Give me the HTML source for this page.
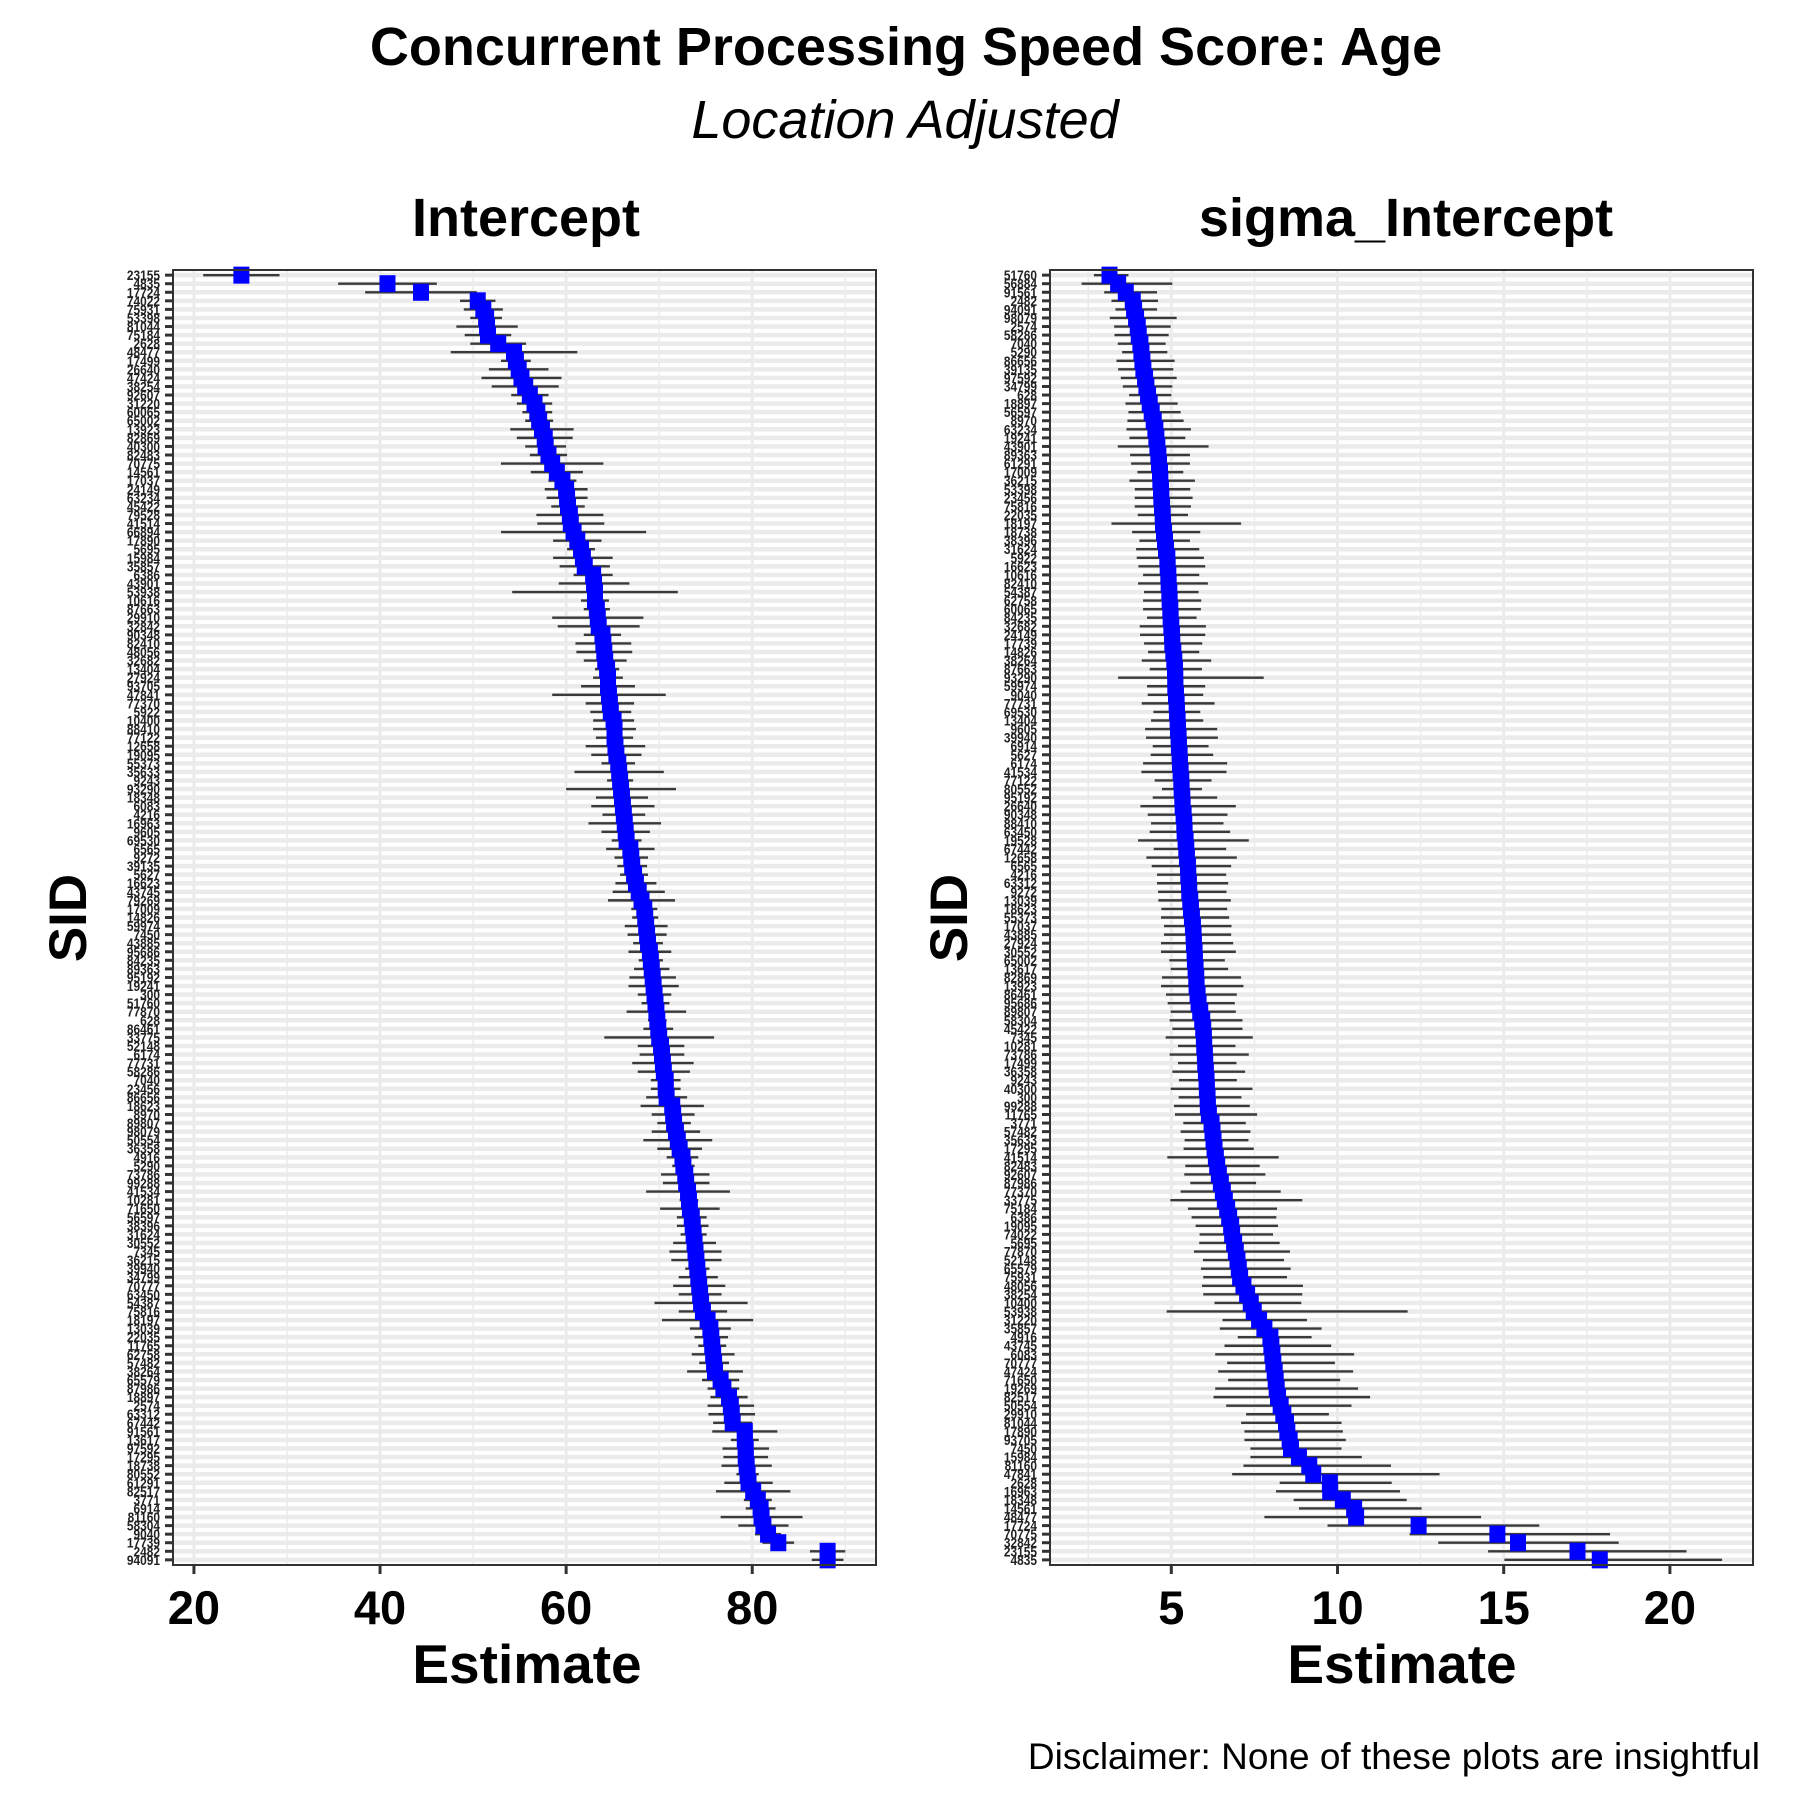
<!DOCTYPE html>
<html><head><meta charset="utf-8"><style>
html,body{margin:0;padding:0;background:#fff;}
svg{display:block;font-family:"Liberation Sans",Arial,sans-serif;}
</style></head><body>
<svg id="chart" width="1800" height="1800" viewBox="0 0 1800 1800" xmlns="http://www.w3.org/2000/svg">
<text x="906" y="65" text-anchor="middle" font-size="54" font-weight="bold">Concurrent Processing Speed Score: Age</text>
<text x="905" y="138" text-anchor="middle" font-size="54" font-style="italic">Location Adjusted</text>
<text x="526" y="236" text-anchor="middle" font-size="54" font-weight="bold">Intercept</text>
<text x="1406" y="236" text-anchor="middle" font-size="54" font-weight="bold">sigma_Intercept</text>
<text transform="translate(86,918) rotate(-90)" text-anchor="middle" font-size="53" font-weight="bold">SID</text>
<text transform="translate(967,918) rotate(-90)" text-anchor="middle" font-size="53" font-weight="bold">SID</text>
<text x="527" y="1683" text-anchor="middle" font-size="55" font-weight="bold">Estimate</text>
<text x="1402" y="1683" text-anchor="middle" font-size="55" font-weight="bold">Estimate</text>
<text x="1760" y="1769" text-anchor="end" font-size="37">Disclaimer: None of these plots are insightful</text>
<g id="left"></g>
<g id="right"></g>
</svg>
<script>
const leftLabels = ["23155","4835","17724","74022","75931","53398","81044","75184","2628","48477","17499","26640","47424","38254","92607","31220","60065","65002","13923","82869","40300","82483","70775","14561","17037","24149","63234","45422","79528","41514","66894","17890","5695","15984","35857","6386","43901","53938","10616","87663","29910","32842","90348","82410","48056","32682","13404","27924","93705","47841","77370","5922","10400","88410","77122","12658","19095","55373","35633","9243","93290","18348","6083","4216","16963","9605","69530","6565","9272","39135","5627","16623","43745","79269","17009","14826","59974","7450","43885","95686","84235","89363","95192","19241","300","51760","77870","628","86461","33775","52148","6174","77731","58286","7040","23456","86656","18623","8970","89807","98079","50554","36358","4916","5290","73786","99288","41534","10281","71650","56597","38396","31624","30552","7345","36215","39940","34799","70777","63450","54387","75816","18197","13039","22035","11765","62758","57482","38264","65579","87986","18897","2574","63312","67442","91561","13617","97592","17295","18738","80552","61291","82517","3771","6914","81160","58304","9040","17739","2482","94091"];
const leftEst = [25.1,40.8,44.4,50.5,51.1,51.4,51.5,51.6,52.7,54.4,54.6,54.9,55.2,55.6,56.1,56.6,56.9,57.1,57.4,57.7,57.8,58.1,58.5,59,59.6,60,60.1,60.2,60.4,60.5,60.8,61.2,61.6,61.8,62,62.9,63,63.1,63.1,63.3,63.4,63.5,63.9,64,64.1,64.2,64.4,64.5,64.5,64.6,64.7,64.8,65.1,65.2,65.2,65.3,65.4,65.6,65.7,65.8,65.9,66,66.1,66.2,66.3,66.4,66.5,66.9,67,67.1,67.3,67.5,67.8,68.1,68.4,68.5,68.6,68.7,68.8,69,69.1,69.2,69.3,69.4,69.5,69.6,69.7,69.8,69.9,70,70.2,70.3,70.4,70.5,70.7,70.7,70.8,71.4,71.5,71.6,71.8,72,72.2,72.5,72.6,72.8,72.9,73.1,73.2,73.3,73.5,73.6,73.7,73.8,73.9,74,74.1,74.2,74.3,74.4,74.5,74.7,75.2,75.5,75.6,75.7,75.8,75.9,76,76.6,76.9,77.5,77.7,77.8,77.9,79.2,79.2,79.3,79.3,79.4,79.5,79.6,80.1,80.6,80.9,81,81.2,81.7,82.8,88.1,88.1];
const leftErr = [4.1,5.3,6,1.9,2.1,1.7,3.3,2.5,3,6.8,1.6,3.2,4.3,3.6,2,1.9,1.6,1.5,3.4,3,2.2,2,5.5,2.8,1.5,2.3,2.2,1.8,3.6,3.6,7.8,2.6,1.5,3.2,2.7,2.1,3.8,8.9,1.5,1.4,4.9,4.4,2,3,3,2.3,1.3,1.6,2.9,6.1,2.6,2.2,2.2,2.3,2,3.2,2.7,1.8,4.8,1.4,5.9,2.8,3.4,2.3,3.9,2.6,1.6,2.6,1.8,1.6,1.5,2.2,2.8,3.6,1.4,1.4,2.3,2.1,1.6,2.3,1.3,1.9,2.5,2.7,1.8,1.5,3.2,1,1.6,5.9,2.5,2.4,3.3,2.8,1.6,1.6,2.2,3.4,2.3,1.8,2.6,3.7,2.4,1.7,1.2,2.6,2.5,4.5,1,3.2,1.6,1.7,1.4,2.3,2.8,2.7,1.3,2.1,2.8,2.3,5,2.6,4.9,2.2,1.8,1.5,2.3,1.6,3,2,1.7,2,2.5,2.5,2.1,3.5,1.5,2.5,2.4,2.7,1.2,2.6,4,1.5,1.6,4.4,2.7,1.4,1.7,1.9,1.7];
const leftTicks = [20,40,60,80];
const leftMinor = [30,50,70,90];

const rightLabels = ["51760","56884","91561","2482","94091","98079","2574","58286","7040","5290","86656","39135","97592","34799","628","18897","56597","8970","63234","19241","43901","89363","61291","17009","36215","53398","23456","75816","22035","18197","18738","38396","31624","5922","16623","10616","82410","54387","62758","60065","84235","32682","24149","17739","14826","38264","87663","93290","59974","9040","77731","69530","13404","9605","39940","6914","5627","6174","41534","77122","80552","95192","26640","90348","88410","63450","19528","67442","12658","6565","4216","63312","9272","13039","18623","55373","17037","43885","27924","30552","65002","13617","82869","13923","86461","95686","89807","58304","45422","7345","10281","73786","17499","36358","9243","40300","300","99288","11765","3771","57482","35633","17295","41514","82483","92607","87986","77370","33775","75184","6386","19095","74022","5695","77870","52148","65579","75931","48056","38254","10400","53938","31220","35857","4916","43745","6083","70777","47424","71650","19269","82517","50554","29910","81044","17890","93705","7450","15984","81160","47841","2628","16963","18348","14561","48477","17724","70775","32842","23155","4835"];
const rightEst = [3.14,3.4,3.63,3.84,3.88,3.94,3.99,4.02,4.07,4.1,4.13,4.16,4.21,4.25,4.3,4.35,4.41,4.47,4.52,4.55,4.58,4.61,4.63,4.66,4.67,4.69,4.7,4.72,4.74,4.75,4.78,4.81,4.84,4.88,4.89,4.91,4.92,4.94,4.95,4.97,4.98,5.0,5.02,5.03,5.06,5.09,5.11,5.12,5.12,5.14,5.16,5.17,5.19,5.2,5.22,5.23,5.25,5.26,5.28,5.3,5.31,5.33,5.34,5.37,5.39,5.4,5.43,5.45,5.47,5.5,5.51,5.53,5.54,5.57,5.59,5.62,5.65,5.67,5.68,5.7,5.71,5.73,5.75,5.76,5.79,5.82,5.87,5.93,5.96,5.98,5.99,6.01,6.02,6.04,6.06,6.07,6.09,6.1,6.13,6.21,6.24,6.27,6.3,6.34,6.38,6.43,6.49,6.55,6.61,6.68,6.74,6.8,6.83,6.89,6.94,6.99,7.03,7.07,7.17,7.28,7.39,7.48,7.64,7.8,7.98,8.01,8.04,8.07,8.11,8.14,8.17,8.21,8.29,8.37,8.45,8.49,8.56,8.6,8.84,9.15,9.27,9.77,9.78,10.16,10.5,10.56,12.44,14.81,15.43,17.22,17.89];
const rightLo = [2.67,2.3,2.98,3.2,3.32,3.15,3.28,3.29,3.39,3.52,3.35,3.4,3.48,3.54,3.73,3.62,3.71,3.68,3.65,3.74,3.39,3.76,3.79,3.98,3.74,3.9,3.9,3.9,3.99,3.2,3.82,4.04,3.94,3.96,4.01,4.15,4.0,4.18,4.15,4.15,4.27,4.05,4.06,4.18,4.3,4.11,4.35,3.4,4.27,4.29,4.11,4.46,4.39,4.21,4.24,4.44,4.38,4.15,4.1,4.5,4.72,4.44,4.07,4.29,4.39,4.35,4.0,4.47,4.25,4.41,4.57,4.57,4.6,4.61,4.7,4.69,4.78,4.78,4.69,4.69,4.94,4.98,4.72,4.69,4.84,4.89,4.98,4.95,5.03,4.83,5.2,4.95,5.2,5.03,5.23,4.98,5.22,5.08,5.11,5.36,5.28,5.4,5.37,4.88,5.42,5.39,5.57,5.28,4.97,5.5,5.61,5.73,5.85,5.84,5.68,5.95,5.89,5.96,5.92,5.96,6.3,4.86,6.54,6.46,7.0,6.6,6.32,6.68,6.41,6.71,6.32,6.27,6.65,7.25,7.1,7.2,7.2,7.38,7.38,7.17,6.83,8.26,8.15,8.68,8.84,7.8,9.7,12.17,13.03,14.53,15.02];
const rightHi = [3.71,5.03,4.57,4.6,4.57,5.16,4.98,4.92,4.83,4.88,5.1,5.06,5.16,5.03,5.0,5.19,5.28,5.37,5.59,5.42,6.12,5.56,5.56,5.36,5.71,5.57,5.64,5.59,5.5,7.1,5.87,5.56,5.84,5.98,6.02,5.84,6.1,5.82,5.9,5.89,5.76,6.04,6.02,5.93,5.84,6.2,5.92,7.78,6.02,5.96,6.3,5.87,5.96,6.38,6.4,6.12,6.26,6.68,6.66,6.21,5.92,6.38,6.94,6.69,6.57,6.77,7.33,6.65,6.97,6.8,6.65,6.71,6.66,6.79,6.68,6.74,6.81,6.8,6.86,6.94,6.61,6.71,7.1,7.17,6.97,6.91,6.94,7.14,7.14,7.45,6.93,7.33,6.96,7.22,6.97,7.44,7.11,7.36,7.58,7.24,7.38,7.32,7.48,8.23,7.66,7.83,7.55,8.29,8.94,8.18,8.16,8.21,8.06,8.26,8.57,8.39,8.59,8.48,8.96,8.94,8.91,12.11,9.08,9.52,9.22,9.81,10.5,9.92,10.47,10.08,10.62,10.98,10.42,9.74,10.12,10.16,10.25,10.12,10.73,11.61,13.07,11.63,11.88,12.08,12.53,14.32,16.07,18.2,18.46,20.5,21.57];
const rightTicks = [5,10,15,20];
const rightMinor = [2.5,7.5,12.5,17.5,22.5];

const NS = "http://www.w3.org/2000/svg";
function mk(tag, attrs, parent){
  const e = document.createElementNS(NS, tag);
  for (const k in attrs) e.setAttribute(k, attrs[k]);
  parent.appendChild(e);
  return e;
}

function drawPanel(g, cfg){
  const {x0,x1,y0,y1,dmin,dmax,labels,est,lo,hi,ticks,minor,labelX} = cfg;
  const n = labels.length;
  const sx = v => x0 + (v - dmin) / (dmax - dmin) * (x1 - x0);
  const step = (y1 - y0) / (n + 0.2);
  const sy = i => y0 + step * (i + 0.6);

  const bg = mk('rect', {x:x0, y:y0, width:x1-x0, height:y1-y0, fill:'#ffffff'}, g);
  
  

  for (let i = 0; i < n; i++){
    const hl = mk('line', {x1:x0, x2:x1, y1:sy(i), y2:sy(i), stroke:'#ebebeb', 'stroke-width':4.5}, g);
    
    
  }
  minor.forEach(v => {
    if (v <= dmin || v >= dmax) return;
    const ml = mk('line', {x1:sx(v), x2:sx(v), y1:y0, y2:y1, stroke:'#ebebeb', 'stroke-width':1.5}, g);
    
    
  });
  ticks.forEach(v => {
    const gl = mk('line', {x1:sx(v), x2:sx(v), y1:y0, y2:y1, stroke:'#ebebeb', 'stroke-width':3}, g);
    
    
  });

  for (let i = 0; i < n; i++){
    const eb = mk('line', {x1:sx(lo[i]), x2:sx(hi[i]), y1:sy(i), y2:sy(i), stroke:'#3a3a3a', 'stroke-width':2.4}, g);
    
    
  }
  for (let i = 0; i < n; i++){
    const pt = mk('rect', {x:sx(est[i])-8, y:sy(i)-8.5, width:16, height:17, fill:'#0000ff'}, g);
    
    
  }

  const border = mk('rect', {x:x0, y:y0, width:x1-x0, height:y1-y0, fill:'none', stroke:'#333333', 'stroke-width':2}, g);
  
  

  for (let i = 0; i < n; i++){
    const tk = mk('line', {x1:x0-8, x2:x0, y1:sy(i), y2:sy(i), stroke:'#333333', 'stroke-width':3}, g);
    
    
    const tl = mk('text', {x:labelX, y:sy(i)+5, 'text-anchor':'end', 'font-size':14, 'font-weight':'bold', fill:'#222', transform:'translate('+labelX+',0) scale(0.85,1) translate('+(-labelX)+',0)'}, g);
    
    
    tl.textContent = labels[i];
  }
  ticks.forEach(v => {
    const xt = mk('line', {x1:sx(v), x2:sx(v), y1:y1, y2:y1+9, stroke:'#333333', 'stroke-width':3}, g);
    
    
    const xl = mk('text', {x:sx(v), y:1624, 'text-anchor':'middle', 'font-size':47, 'font-weight':'bold'}, g);
    
    
    xl.textContent = v;
  });
}

const leftLo = leftEst.map((v,i) => v - leftErr[i]);
const leftHi = leftEst.map((v,i) => v + leftErr[i]);

drawPanel(document.getElementById('left'), {x0:173, x1:876, y0:270, y1:1565, dmin:17.75, dmax:93.3,
  labels:leftLabels, est:leftEst, lo:leftLo, hi:leftHi, ticks:leftTicks, minor:leftMinor, labelX:160});
drawPanel(document.getElementById('right'), {x0:1050, x1:1753, y0:270, y1:1565, dmin:1.35, dmax:22.5,
  labels:rightLabels, est:rightEst, lo:rightLo, hi:rightHi, ticks:rightTicks, minor:rightMinor, labelX:1037});
</script>
</body></html>
